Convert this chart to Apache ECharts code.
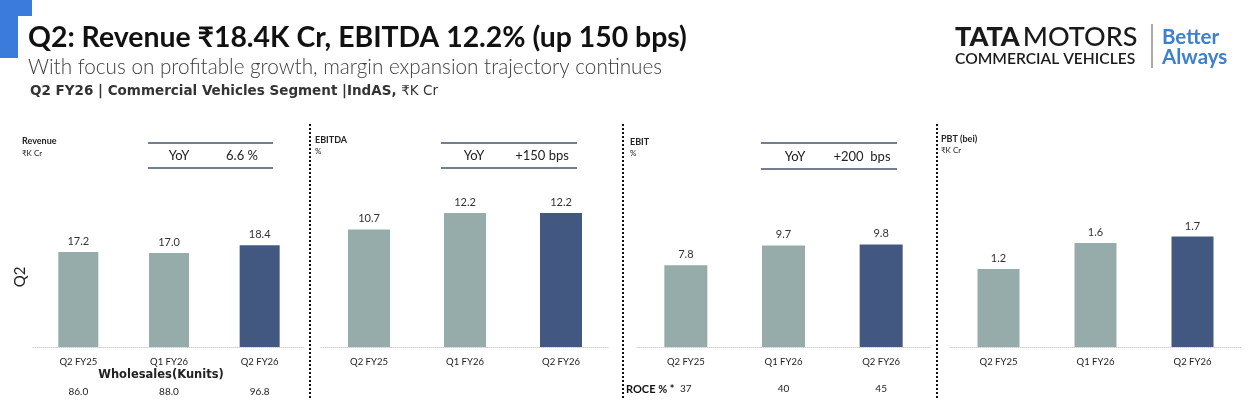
<!DOCTYPE html>
<html>
<head>
<meta charset="utf-8">
<script src="https://cdn.jsdelivr.net/npm/echarts@6/dist/echarts.min.js"></script>
<style>
html,body{margin:0;padding:0;background:#fff;}
#c{width:1249px;height:400px;}
</style>
</head>
<body>
<div id="c"></div>
<script>
var categories = ['Q2 FY25', 'Q1 FY26', 'Q2 FY26'];
var revenue = [17.2, 17.0, 18.4];
var ebitda = [10.7, 12.2, 12.2];
var ebit = [7.8, 9.7, 9.8];
var pbt = [1.2, 1.6, 1.7];
var wholesales = ['86.0', '88.0', '96.8'];
var roce = ['37', '40', '45'];

var LIGHT = '#95acaa', DARK = '#435880';
var FONT = 'Lato, "Noto Sans", sans-serif';

var chart = echarts.init(document.getElementById('c'), null, {renderer: 'canvas'});

var panels = [
  {left: 33, width: 272, max: 36.2, data: revenue, barWidth: 40, extra: wholesales, gap: 29},
  {left: 321, width: 288, max: 18.2, data: ebitda, barWidth: 42},
  {left: 637, width: 293, max: 19.1, data: ebit, barWidth: 43, extra: roce, gap: 26},
  {left: 950, width: 291, max: 3.08, data: pbt, barWidth: 42}
];

var grids = [], xAxes = [], yAxes = [], series = [];
panels.forEach(function (p, i) {
  grids.push({left: p.left, width: p.width, top: 147, bottom: 53, containLabel: false, outerBoundsMode: 'none'});
  var extra = p.extra;
  xAxes.push({
    type: 'category', gridIndex: i, data: categories,
    axisLine: {lineStyle: {color: '#cfcfcf', type: 'dotted', width: 1}},
    axisTick: {show: false},
    axisLabel: {
      margin: 9,
      interval: 0,
      fontFamily: FONT, fontSize: 9.5, color: '#222',
      formatter: function (v, idx) {
        if (!extra) return '{c|' + v + '}';
        return '{c|' + v + '}\n{v|' + extra[idx] + '}';
      },
      rich: {
        c: {fontFamily: FONT, fontSize: 9.5, color: '#222', lineHeight: 12},
        v: {fontFamily: FONT, fontSize: 10, color: '#222', lineHeight: p.gap || 12, verticalAlign: 'bottom'}
      }
    }
  });
  yAxes.push({type: 'value', gridIndex: i, min: 0, max: p.max, show: false, splitLine: {show: false}});
  series.push({
    type: 'bar', xAxisIndex: i, yAxisIndex: i, barWidth: p.barWidth,
    data: p.data.map(function (v, k) {
      return {value: v, itemStyle: {color: k === 2 ? DARK : LIGHT}};
    }),
    label: {
      show: true, position: 'top', distance: 5,
      fontFamily: FONT, fontSize: 11, color: '#333',
      formatter: function (o) { return o.value.toFixed(1); }
    },
    silent: true
  });
});

function txt(x, y, text, style, extra) {
  var o = {type: 'text', x: x, y: y, silent: true,
    style: Object.assign({text: text, fill: '#222', font: '12px ' + FONT, textVerticalAlign: 'middle', textAlign: 'left'}, style)};
  return Object.assign(o, extra || {});
}
function hline(x1, x2, y, color, w) {
  return {type: 'line', silent: true, shape: {x1: x1, y1: y, x2: x2, y2: y}, style: {stroke: color, lineWidth: w}};
}
function dotted(x, y1, y2) {
  return {type: 'line', silent: true, shape: {x1: x, y1: y1, x2: x, y2: y2}, style: {stroke: '#111', lineWidth: 2, lineDash: [2, 2]}};
}

var BOXC = '#44546a';
var graphic = [
  {type: 'rect', silent: true, shape: {x: 0, y: 0, width: 32, height: 16}, style: {fill: '#3b7bdc'}},
  {type: 'rect', silent: true, shape: {x: 0, y: 16, width: 18, height: 42}, style: {fill: '#3b7bdc'}},
  txt(28, 38, 'Q2: Revenue ₹18.4K Cr, EBITDA 12.2% (up 150 bps)', {font: 'bold 28.4px ' + FONT, fill: '#111'}),
  txt(28, 67, 'With focus on profitable growth, margin expansion trajectory continues', {font: '300 20.7px ' + FONT, fill: '#404040'}),
  txt(30, 91, '{b|Q2 FY26 | Commercial Vehicles Segment |IndAS, }{n|₹K Cr}', {
    rich: {
      b: {font: 'bold 13.5px "DejaVu Sans"', fill: '#333'},
      n: {font: '13.5px "DejaVu Sans"', fill: '#333'}
    }
  }),
  // logo
  txt(955, 37, '{t|TATA} {m|MOTORS}', {
    rich: {
      t: {font: '900 27px ' + FONT, fill: '#1a1a1a'},
      m: {font: '500 27px ' + FONT, fill: '#1a1a1a'}
    }
  }),
  txt(955, 59, 'COMMERCIAL VEHICLES', {font: '600 15.6px ' + FONT, fill: '#1a1a1a'}),
  {type: 'line', silent: true, shape: {x1: 1152, y1: 24, x2: 1152, y2: 68}, style: {stroke: '#555', lineWidth: 1}},
  txt(1162, 37, 'Better', {font: 'bold 20.5px ' + FONT, fill: '#3f80cc'}),
  txt(1162, 57, 'Always', {font: 'bold 20.5px ' + FONT, fill: '#3f80cc'}),

  // Q2 side label
  txt(20, 277, 'Q2', {font: '15px ' + FONT, fill: '#222', textAlign: 'center'}, {rotation: Math.PI / 2}),

  // panel headers
  txt(22, 141, 'Revenue', {font: 'bold 9px ' + FONT}),
  txt(22, 153, '₹K Cr', {font: '8px ' + FONT}),
  txt(315, 140, 'EBITDA', {font: 'bold 9px ' + FONT}),
  txt(315, 151, '%', {font: '8px ' + FONT}),
  txt(630, 142, 'EBIT', {font: 'bold 9px ' + FONT}),
  txt(630, 153, '%', {font: '8px ' + FONT}),
  txt(941, 139, 'PBT (bei)', {font: 'bold 9px ' + FONT}),
  txt(941, 150, '₹K Cr', {font: '8px ' + FONT}),

  // YoY boxes
  hline(148, 273, 143, BOXC, 1.6), hline(148, 273, 168, BOXC, 1.6),
  txt(179, 156, 'YoY', {font: '13px ' + FONT, textAlign: 'center'}),
  txt(242, 156, '6.6 %', {font: '13px ' + FONT, textAlign: 'center'}),
  hline(441, 577, 143, BOXC, 1.6), hline(441, 577, 168, BOXC, 1.6),
  txt(474, 156, 'YoY', {font: '13px ' + FONT, textAlign: 'center'}),
  txt(542, 156, '+150 bps', {font: '13px ' + FONT, textAlign: 'center'}),
  hline(761, 897, 143, BOXC, 1.6), hline(761, 897, 169, BOXC, 1.6),
  txt(795, 157, 'YoY', {font: '13px ' + FONT, textAlign: 'center'}),
  txt(862, 157, '+200  bps', {font: '13px ' + FONT, textAlign: 'center'}),

  // separators
  dotted(310, 124, 400), dotted(623, 124, 400), dotted(937, 124, 400),

  // bottom annotations
  txt(161, 375, 'Wholesales(Kunits)', {font: 'bold 11.5px "DejaVu Sans"', fill: '#222', textAlign: 'center'}),
  txt(626, 389, 'ROCE % *', {font: 'bold 11px ' + FONT, fill: '#111'})
];

chart.setOption({
  backgroundColor: '#fff',
  animation: false,
  grid: grids,
  xAxis: xAxes,
  yAxis: yAxes,
  series: series,
  graphic: graphic
});
</script>
</body>
</html>
